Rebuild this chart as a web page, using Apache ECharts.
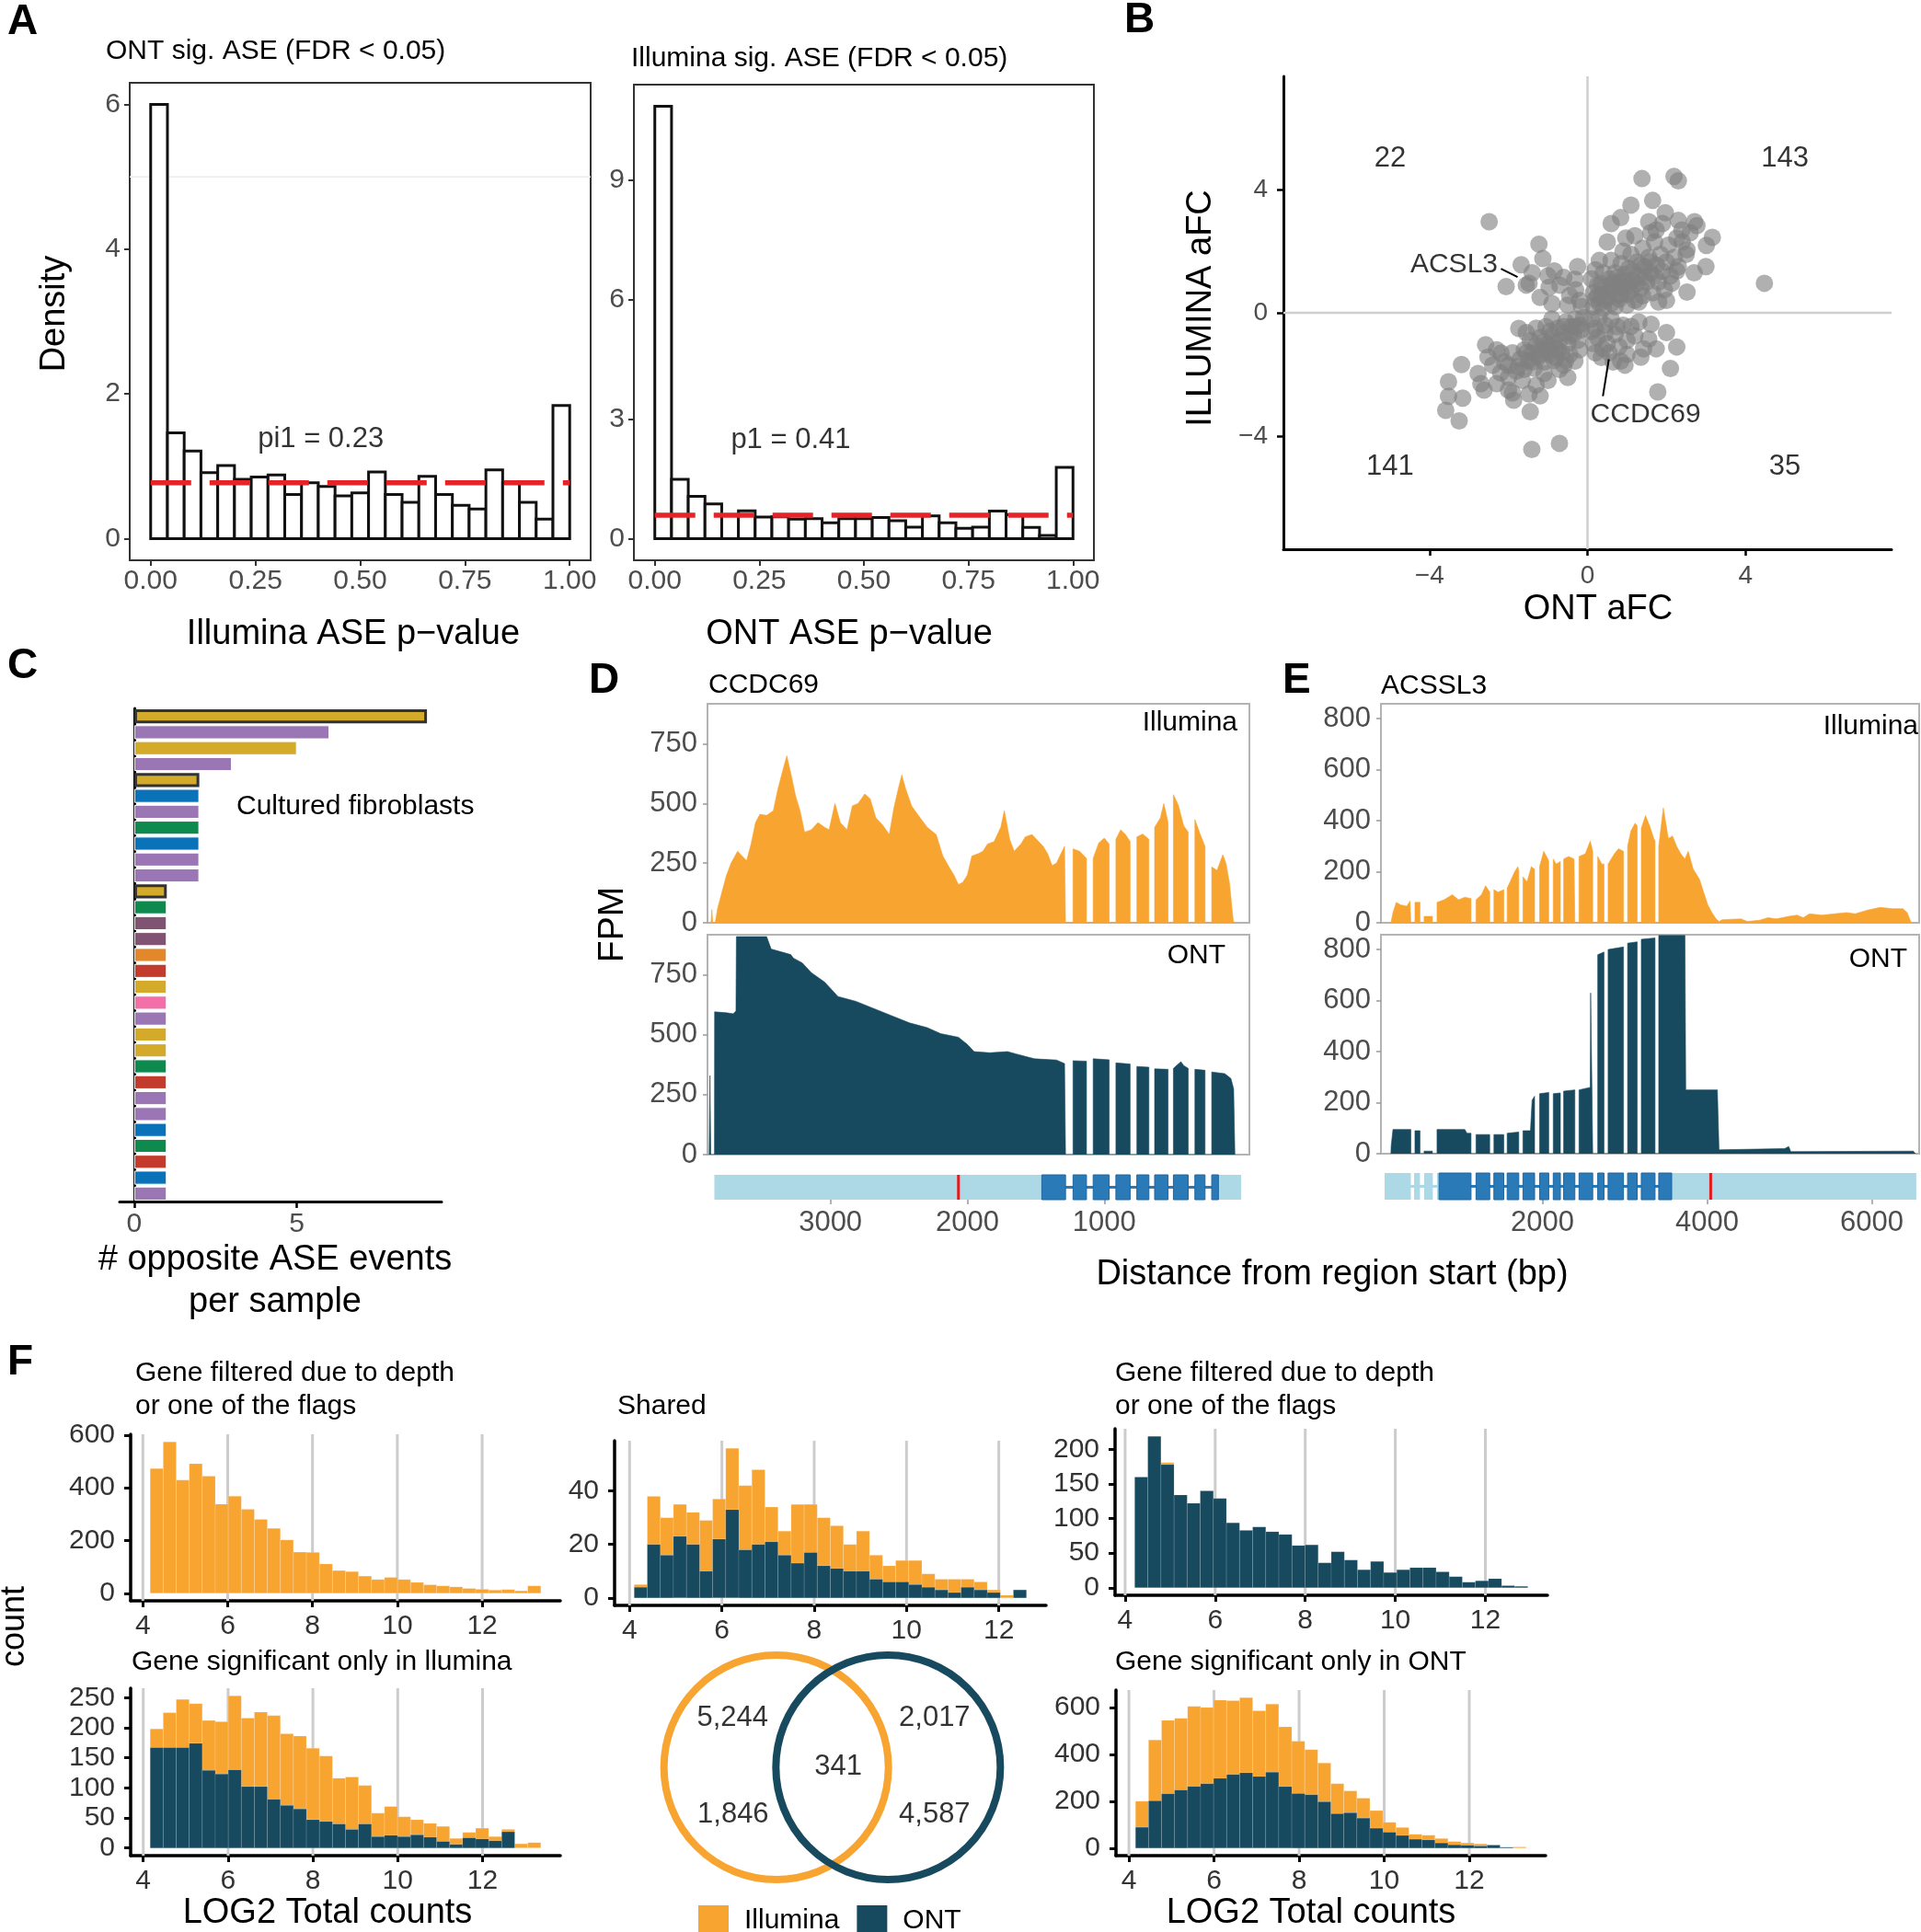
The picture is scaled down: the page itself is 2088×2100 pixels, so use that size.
<!DOCTYPE html>
<html>
<head>
<meta charset="utf-8">
<title>ONT vs Illumina ASE</title>
<script src="https://cdn.jsdelivr.net/npm/echarts@6/dist/echarts.min.js"></script>
<style>
  html, body { margin: 0; padding: 0; background: #fff; }
  #chart { width: 2088px; height: 2100px; }
</style>
</head>
<body>
<div id="chart"></div>
<script>
// ---------------- data ----------------
// A: p-value histograms (25 bins of 0.04)
const aBinWidth = 0.04;
const ontSigIlluminaP = [6.0, 1.46, 1.21, 0.91, 1.01, 0.82, 0.85, 0.88, 0.61, 0.77, 0.72, 0.59, 0.63, 0.92, 0.61, 0.50, 0.86, 0.61, 0.46, 0.41, 0.95, 0.77, 0.50, 0.27, 1.84];
const illSigOntP = [10.85, 1.49, 1.06, 0.87, 0.58, 0.70, 0.54, 0.55, 0.49, 0.50, 0.40, 0.50, 0.50, 0.53, 0.45, 0.29, 0.57, 0.40, 0.26, 0.29, 0.69, 0.60, 0.28, 0.08, 1.79];
const pi1 = 0.23;
const p1 = 0.41;

// B: aFC ONT vs Illumina
const afcPoints = [
  [2.19,4.43],[2.30,4.29],[1.38,4.36],[1.65,3.65],[1.97,3.25],[0.84,3.09],[2.71,2.96],[2.77,2.83],[3.16,2.45],[3.01,2.19],
  [2.52,2.05],[2.26,2.43],[2.39,2.69],[1.55,2.96],[1.74,2.69],[0.97,2.43],[4.48,0.96],[2.52,0.67],[2.26,1.36],[2.13,0.96],
  [0.15,0.2],[0.2,0.45],[0.3,0.3],[0.35,0.6],[0.4,0.15],[0.45,0.85],[0.5,0.5],[0.55,1.1],[0.6,0.3],[0.65,0.75],
  [0.7,1.3],[0.75,0.55],[0.8,1.0],[0.85,1.6],[0.9,0.8],[0.95,1.25],[1.0,0.6],[1.05,1.45],[1.1,1.9],[1.15,1.05],
  [1.2,0.4],[1.25,1.65],[1.3,1.2],[1.35,0.8],[1.4,2.1],[1.45,1.5],[1.5,1.0],[1.55,1.8],[1.6,1.3],[1.65,0.65],
  [1.7,2.3],[1.75,1.55],[1.8,1.0],[1.85,1.9],[1.9,1.35],[1.95,0.75],[2.0,1.65],[2.05,2.2],[2.1,1.2],[2.2,1.8],
  [2.3,1.5],[2.4,2.3],[2.5,1.9],[2.6,2.6],[0.25,0.9],[0.6,1.7],[0.9,2.0],[1.2,2.5],[0.4,1.3],[0.7,0.2],
  [1.0,0.25],[1.3,0.35],[0.3,1.7],[0.5,2.3],[0.15,0.65],[1.6,2.6],[1.9,2.9],[2.3,3.0],[1.1,3.5],[0.6,2.9],
  [0.1,1.1],[0.2,1.4],[2.7,1.3],[3.0,1.5],[1.8,0.35],[2.0,0.4],[0.8,0.45],[1.4,0.55],[0.55,0.7],[0.85,0.6],
  [1.05,0.9],[1.25,0.95],[0.95,1.05],[1.15,1.35],[1.45,1.15],[0.75,1.15],[0.45,0.4],[1.7,1.2],[1.35,1.55],[1.6,1.65],
  [0.65,0.95],[1.1,0.75],[0.35,0.95],[0.25,0.55],
  [-2.49,2.96],[-1.23,2.23],[-1.13,1.76],[-1.68,1.56],[-2.06,0.85],[-1.48,0.96],[-0.84,1.36],[-0.32,1.09],[-0.97,0.83],[-0.45,0.56],
  [-1.55,0.9],[-1.2,0.5],[-0.7,0.9],[-0.2,0.4],[-0.6,1.15],[-1.0,1.2],[-0.3,0.75],[-0.15,0.2],[-0.9,0.3],[-1.4,1.3],
  [-0.5,0.25],[-0.25,1.5],
  [-0.71,-4.24],[-1.41,-4.44],[-1.45,-3.21],[-3.25,-3.51],[-3.59,-3.17],[-3.52,-2.71],[-3.52,-2.24],[-3.16,-2.77],[-3.19,-1.68],[-2.77,-1.97],
  [-2.62,-2.51],[-2.58,-1.04],[-2.0,-2.51],[-1.87,-2.84],[-1.48,-2.64],[-2.52,-1.44],[-2.19,-1.31],[-2.0,-1.71],[-1.61,-1.84],[-1.10,-1.97],
  [-0.71,-1.84],[-0.32,-1.57],[-1.55,-0.64],[-1.74,-0.51],[-0.1,-0.15],[-0.2,-0.4],[-0.3,-0.2],[-0.35,-0.7],[-0.4,-0.45],[-0.5,-1.0],
  [-0.55,-0.3],[-0.6,-0.65],[-0.65,-1.3],[-0.7,-0.9],[-0.75,-0.5],[-0.8,-1.15],[-0.85,-1.55],[-0.9,-0.75],[-0.95,-1.35],[-1.0,-1.0],
  [-1.05,-0.45],[-1.1,-1.6],[-1.15,-1.2],[-1.2,-0.8],[-1.25,-1.45],[-1.3,-1.05],[-1.35,-1.8],[-1.4,-1.3],[-1.45,-0.9],[-1.5,-1.55],
  [-1.6,-1.2],[-1.7,-1.5],[-1.8,-1.9],[-1.9,-1.3],[-2.0,-2.1],[-2.1,-1.6],[-2.2,-1.95],[-2.3,-2.3],[-2.4,-1.7],[-1.65,-2.2],
  [-1.3,-2.35],[-0.45,-1.35],[-0.25,-0.9],[-0.15,-0.55],[-0.6,-1.7],[-1.0,-2.2],[-0.9,-0.2],[-1.3,-0.5],[-0.2,-1.2],[-2.7,-2.3],
  [-1.9,-2.6],[-1.2,-2.7],[-0.5,-2.1],[-2.3,-1.2],[-0.6,-0.45],[-0.85,-0.95],[-1.1,-0.95],[-0.75,-1.2],[-1.2,-1.35],[-0.45,-0.75],
  [-1.0,-1.25],[-1.4,-1.6],[-0.95,-0.6],[-0.3,-0.45],[-1.55,-1.3],[-1.75,-1.75],[-0.55,-1.55],[-0.8,-1.45],
  [1.61,-0.37],[2.0,-0.64],[2.26,-1.11],[1.42,-1.17],[1.74,-1.17],[1.35,-1.44],[0.84,-1.57],[0.39,-1.17],[1.10,-0.44],[2.10,-1.81],
  [1.78,-2.57],[0.1,-0.2],[0.2,-0.5],[0.3,-0.15],[0.25,-0.8],[0.45,-0.4],[0.5,-1.0],[0.6,-0.2],[0.7,-0.7],[0.55,-1.3],
  [0.8,-1.1],[0.9,-0.4],[1.0,-0.9],[0.35,-1.45],[0.15,-1.0],[1.2,-0.75],[1.0,-1.35],[0.65,-1.6],[0.45,-0.65],[1.3,-0.3],
  [0.1,-0.6],[0.75,-0.45],[0.2,-1.3],[1.55,-0.85],[0.95,-1.7]
];
const quadrantCounts = [22, 143, 141, 35]; // top-left, top-right, bottom-left, bottom-right
const acsl3Leader = [-2.19, 1.43, -1.77, 1.16];
const ccdc69Leader = [0.54, -1.51, 0.39, -2.71];

// C: opposite ASE events per sample
const oppositeEvents = [9, 6, 5, 3, 2, 2, 2, 2, 2, 2, 2, 1, 1, 1, 1, 1, 1, 1, 1, 1, 1, 1, 1, 1, 1, 1, 1, 1, 1, 1, 1];
const sampleGroup = ['gold', 'purple', 'gold', 'purple', 'gold', 'blue', 'purple', 'green', 'blue', 'purple', 'purple',
  'gold', 'green', 'plum', 'plum', 'orange', 'red', 'gold', 'pink', 'purple', 'gold', 'gold', 'green', 'red', 'purple',
  'purple', 'blue', 'green', 'red', 'blue', 'purple'];
const highlightedSamples = [0, 4, 11];

// D: CCDC69 coverage [distance bp, FPM]
const ccdc69Illumina = [
  [3872,0],[3866,55],[3860,0],
  [3842,0],[3824,60],[3792,130],[3759,200],[3726,250],[3678,300],[3645,280],[3612,260],[3580,330],[3547,420],[3515,455],
  [3466,450],[3417,470],[3384,560],[3352,630],[3319,700],[3287,620],[3254,530],[3222,470],[3189,380],[3140,390],[3091,420],
  [3042,400],[3010,390],[2967,500],[2928,420],[2879,390],[2840,490],[2798,500],[2749,540],[2710,520],[2668,440],[2619,410],
  [2570,370],[2537,480],[2505,560],[2479,620],[2450,560],[2407,490],[2358,450],[2293,400],[2228,370],[2179,280],[2130,230],
  [2098,200],[2065,160],[2033,170],[2000,200],[1967,280],[1919,290],[1886,300],[1853,330],[1805,340],[1756,400],[1730,470],
  [1691,350],[1658,300],[1609,330],[1577,360],[1528,370],[1495,350],[1446,320],[1414,290],[1381,240],[1349,250],[1316,290],
  [1290,320],[1283,320],[1283,0],
  [1228,0],[1228,310],[1180,300],[1130,270],[1130,0],
  [1081,0],[1081,270],[1040,335],[1000,355],[964,330],[964,0],
  [915,0],[915,350],[880,390],[845,370],[811,340],[811,0],
  [762,0],[762,360],[720,372],[674,350],[674,0],
  [632,0],[632,400],[590,440],[565,500],[534,420],[534,0],
  [495,0],[495,537],[460,495],[420,407],[387,380],[387,0],
  [338,0],[338,433],[300,372],[264,320],[264,0],
  [215,0],[215,234],[176,220],[134,285],[111,250],[85,165],[62,30],[55,0]
];
const ccdc69Ont = [
  [3886,0],[3880,330],[3874,0],
  [3847,0],[3846,596],[3760,592],[3710,588],[3690,600],[3687,910],[3466,910],[3433,858],[3350,845],[3290,835],[3270,820],
  [3205,800],[3140,760],[3042,720],[2977,680],[2945,660],[2880,650],[2814,640],[2750,625],[2684,610],[2554,580],[2423,550],
  [2293,530],[2195,505],[2065,490],[2000,460],[1951,430],[1837,425],[1707,430],[1642,420],[1511,400],[1349,395],[1290,380],
  [1283,380],[1283,0],
  [1228,0],[1228,392],[1130,390],[1130,0],
  [1081,0],[1081,400],[964,396],[964,0],
  [915,0],[915,383],[811,378],[811,0],
  [762,0],[762,368],[674,365],[674,0],
  [632,0],[632,358],[534,356],[534,0],
  [495,0],[495,360],[440,388],[420,372],[387,360],[387,0],
  [338,0],[338,356],[264,352],[264,0],
  [215,0],[215,345],[120,338],[75,318],[55,275],[46,0]
];
const ccdc69Utr = [[0, 166], [1456, 3848]];
const ccdc69Cds = [[166, 215], [264, 338], [387, 495], [534, 632], [674, 762], [811, 915], [964, 1081], [1130, 1228], [1283, 1456]];
const ccdc69Variant = 2065;

// E: ACSL3 coverage [distance bp, FPM]
const acsl3Illumina = [
  [159,0],[184,40],[224,80],[275,70],[351,65],[391,85],[401,85],[401,0],
  [451,0],[451,80],[512,80],[512,0],
  [562,0],[562,25],[663,25],[663,0],
  [719,0],[719,80],[805,90],[905,110],[981,90],[1057,100],[1132,95],[1132,0],
  [1193,0],[1193,90],[1259,110],[1309,145],[1359,120],[1359,0],
  [1410,0],[1410,130],[1460,120],[1530,130],[1530,0],
  [1571,0],[1571,135],[1662,200],[1702,220],[1712,200],[1712,0],
  [1763,0],[1763,180],[1813,160],[1864,220],[1904,210],[1904,0],
  [1965,0],[1965,220],[2015,280],[2066,250],[2076,240],[2076,0],
  [2131,0],[2131,250],[2166,230],[2217,240],[2217,0],
  [2257,0],[2257,250],[2318,260],[2383,250],[2393,245],[2393,0],
  [2444,0],[2444,260],[2520,270],[2580,320],[2610,280],[2610,0],
  [2671,0],[2671,260],[2721,230],[2747,230],[2747,0],
  [2797,0],[2797,230],[2873,270],[2923,290],[2984,280],[2984,0],
  [3034,0],[3034,300],[3074,360],[3125,390],[3150,380],[3150,0],
  [3200,0],[3200,370],[3251,420],[3301,380],[3352,330],[3367,320],[3367,0],
  [3412,0],[3412,300],[3468,450],[3528,330],[3579,340],[3629,300],[3680,270],[3730,250],[3770,280],[3831,210],[3907,170],
  [3957,120],[4008,70],[4058,40],[4108,15],[4144,5],[4184,12],[4411,15],[4487,5],[4638,10],[4739,20],[4840,15],[4991,25],
  [5092,30],[5168,20],[5243,35],[5395,30],[5546,35],[5697,40],[5798,35],[5950,50],[6101,60],[6252,55],[6378,55],[6429,40],[6479,0]
];
const acsl3Ont = [
  [159,0],[162,30],[184,95],[401,95],[401,0],
  [451,0],[451,90],[512,90],[512,0],
  [562,0],[562,10],[663,10],[663,0],
  [719,0],[719,95],[1057,95],[1082,80],[1132,80],[1132,0],
  [1193,0],[1193,75],[1359,75],[1359,0],
  [1410,0],[1410,75],[1530,75],[1530,0],
  [1571,0],[1571,80],[1712,85],[1712,0],
  [1763,0],[1763,90],[1854,90],[1874,210],[1904,225],[1904,0],
  [1965,0],[1965,235],[2076,240],[2076,0],
  [2131,0],[2131,235],[2217,238],[2217,0],
  [2257,0],[2257,245],[2393,250],[2393,0],
  [2444,0],[2444,250],[2580,260],[2585,630],[2595,630],[2600,270],[2610,270],[2610,0],
  [2671,0],[2671,780],[2747,790],[2747,0],
  [2797,0],[2797,800],[2984,810],[2984,0],
  [3034,0],[3034,825],[3150,830],[3150,0],
  [3200,0],[3200,840],[3367,845],[3367,0],
  [3412,0],[3412,855],[3730,855],[3740,250],[4124,250],[4144,15],[4941,20],[4991,28],[5016,8],[6504,10],[6530,0]
];
const acsl3Utr = [[83, 401], [441, 512], [562, 668], [719, 744], [3569, 6540]];
const acsl3Cds = [[744, 1132], [1193, 1359], [1410, 1530], [1571, 1712], [1763, 1904], [1965, 2076], [2131, 2217], [2257, 2393],
  [2444, 2610], [2671, 2747], [2797, 2984], [3034, 3150], [3200, 3367], [3412, 3569]];
const acsl3Variant = 4043;

// F: LOG2 total counts histograms (30 bins each)
const f1Start = 4.172, f1Width = 0.307;
const f1Illumina = [473, 574, 429, 491, 444, 338, 368, 318, 280, 246, 202, 156, 155, 111, 86, 82, 65, 52, 60, 52, 41, 32, 28, 24, 18, 15, 12, 14, 9, 28];
const f2Start = 4.10, f2Width = 0.2833;
const f2Ont = [4, 20, 16, 23, 20, 10, 22, 33, 18, 20, 21, 16, 13, 17, 12, 11, 10, 10, 7, 6, 6, 5, 4, 3, 2, 4, 3, 2, 0, 3];
const f2Illumina = [1, 18, 14, 12, 12, 19, 15, 23, 24, 28, 13, 9, 22, 18, 18, 16, 10, 15, 9, 6, 8, 9, 5, 4, 5, 3, 3, 1, 1, 0];
const f3Start = 4.213, f3Width = 0.291;
const f3Ont = [160, 219, 178, 134, 122, 140, 129, 94, 83, 88, 81, 77, 61, 62, 36, 52, 40, 26, 38, 22, 26, 29, 29, 23, 16, 8, 10, 13, 3, 2];
const f3Illumina = [0, 0, 3, 0, 0, 0, 0, 0, 0, 0, 0, 0, 0, 0, 0, 0, 0, 0, 0, 0, 0, 0, 0, 0, 0, 0, 0, 0, 0, 0];
const f4Start = 4.163, f4Width = 0.307;
const f4Ont = [167, 167, 167, 174, 129, 123, 130, 102, 102, 81, 71, 65, 47, 44, 40, 31, 40, 19, 21, 19, 22, 18, 11, 6, 17, 15, 12, 27, 0, 0];
const f4Illumina = [31, 58, 80, 66, 83, 87, 123, 114, 124, 139, 119, 121, 119, 109, 76, 87, 64, 39, 48, 33, 25, 23, 25, 10, 9, 18, 7, 4, 7, 9];
const f6Start = 4.155, f6Width = 0.306;
const f6Ont = [89, 202, 232, 248, 263, 275, 297, 314, 321, 305, 324, 262, 233, 228, 198, 147, 151, 128, 85, 68, 54, 38, 35, 22, 14, 12, 9, 13, 3, 0];
const f6Illumina = [111, 259, 313, 305, 341, 325, 334, 315, 321, 281, 290, 255, 223, 192, 165, 128, 93, 85, 75, 42, 34, 21, 20, 19, 14, 10, 9, 0, 2, 5];
const log2Ticks = [4, 6, 8, 10, 12];

// Venn counts: Illumina-only top, Illumina-only bottom, shared, ONT-only top, ONT-only bottom
const vennNumbers = [5244, 1846, 341, 2017, 4587];

// ---------------- styling ----------------
const FONT = '"Liberation Sans", Arial, Helvetica, sans-serif';
const ORANGE = '#f8a431';
const NAVY = '#17495f';
const LIGHT_BLUE = '#add8e6';
const EXON_BLUE = '#2a7ab8';
const groupColor = {
  gold: '#d4aa2a', purple: '#9a76b5', blue: '#0a72b8', green: '#0f8a4f',
  plum: '#805372', orange: '#e2882a', red: '#c23b2c', pink: '#f26fa8'
};

function merge(a, b) {
  const out = Object.assign({}, a);
  for (const k in b) {
    if (b[k] && typeof b[k] === 'object' && !Array.isArray(b[k]) && a[k] && typeof a[k] === 'object') out[k] = merge(a[k], b[k]);
    else out[k] = b[k];
  }
  return out;
}

function valueAxis(grid, min, max, ticks, extra) {
  const base = {
    type: 'value', gridIndex: grid, min: min, max: max,
    axisLine: { show: false, onZero: false },
    splitLine: { show: false },
    axisTick: { show: !!ticks, length: 6, lineStyle: { color: '#333', width: 2 } },
    axisLabel: { show: !!ticks, fontSize: 30, color: '#4d4d4d', fontFamily: FONT, margin: 10 }
  };
  if (ticks) {
    base.axisTick.customValues = ticks;
    base.axisLabel.customValues = ticks;
  }
  return merge(base, extra || {});
}

const minus = v => String(v).replace('-', '\u2212');
const plain = v => String(v);
const blackAxis = { axisLine: { show: true, onZero: false, lineStyle: { color: '#000', width: 3 } },
  axisTick: { length: 7, lineStyle: { color: '#000', width: 2.5 } } };

function rectSeries(name, grid, data, fill, stroke, lw, z) {
  return {
    type: 'custom', name: name, xAxisIndex: grid, yAxisIndex: grid, z: z || 3,
    itemStyle: { color: fill }, silent: true,
    encode: { x: [0, 1], y: [2, 3] },
    data: data,
    renderItem: function (params, api) {
      const a = api.coord([api.value(0), api.value(3)]);
      const b = api.coord([api.value(1), api.value(2)]);
      return {
        type: 'rect',
        shape: { x: Math.min(a[0], b[0]), y: a[1], width: Math.abs(b[0] - a[0]), height: b[1] - a[1] },
        style: { fill: fill, stroke: stroke, lineWidth: lw }
      };
    }
  };
}

function binsOf(start, width, lower, upper) {
  return upper.map((v, i) => {
    const lo = lower ? lower[i] : 0;
    return [start + i * width, start + (i + 1) * width, lo, lo + v];
  });
}

function segSeries(grid, segs, color, width, z, dash) {
  return {
    type: 'custom', xAxisIndex: grid, yAxisIndex: grid, z: z, silent: true,
    encode: { x: [0, 2], y: [1, 3] },
    data: segs,
    renderItem: function (params, api) {
      const a = api.coord([api.value(0), api.value(1)]);
      const b = api.coord([api.value(2), api.value(3)]);
      return { type: 'line', shape: { x1: a[0], y1: a[1], x2: b[0], y2: b[1] },
        style: { stroke: color, lineWidth: width, lineDash: dash || null } };
    }
  };
}

function textSeries(grid, items, size, position) {
  return {
    type: 'scatter', xAxisIndex: grid, yAxisIndex: grid, z: 6, silent: true,
    symbolSize: 1, itemStyle: { color: 'rgba(0,0,0,0)' }, clip: false,
    label: { show: true, formatter: '{b}', position: position || 'inside', distance: 0,
      fontSize: size, color: '#000', fontFamily: FONT },
    data: items
  };
}

function areaSeries(name, grid, data, color) {
  return {
    type: 'line', name: name, xAxisIndex: grid, yAxisIndex: grid, data: data,
    symbol: 'none', showSymbol: false, smooth: false, z: 2, silent: true,
    lineStyle: { width: 0.6, color: color }, itemStyle: { color: color },
    areaStyle: { color: color, opacity: 1 }
  };
}

function trackSeries(grid, utr, cds, lightIntron, darkIntron, variant) {
  const data = [];
  if (lightIntron) data.push([lightIntron[0], lightIntron[1], 2]);
  data.push([darkIntron[0], darkIntron[1], 3]);
  utr.forEach(r => data.push([r[0], r[1], 0]));
  cds.forEach(r => data.push([r[0], r[1], 1]));
  data.push([variant, variant, 4]);
  return {
    type: 'custom', xAxisIndex: grid, yAxisIndex: grid, z: 3, silent: true,
    encode: { x: [0, 1], y: 2 },
    data: data,
    renderItem: function (params, api) {
      const k = api.value(2);
      const a = api.coord([api.value(0), 1]);
      const b = api.coord([api.value(1), 0]);
      const x = Math.min(a[0], b[0]);
      const w = Math.abs(b[0] - a[0]);
      if (k === 2 || k === 3) {
        const m = (a[1] + b[1]) / 2;
        return { type: 'rect', shape: { x: x, y: m - 1.5, width: w, height: 3 }, style: { fill: k === 2 ? LIGHT_BLUE : EXON_BLUE } };
      }
      if (k === 4) {
        return { type: 'line', shape: { x1: a[0], y1: a[1], x2: a[0], y2: b[1] }, style: { stroke: '#e41a1c', lineWidth: 3 } };
      }
      return { type: 'rect', shape: { x: x, y: a[1], width: w, height: b[1] - a[1] },
        style: { fill: k === 1 ? EXON_BLUE : LIGHT_BLUE, stroke: k === 1 ? '#1f66a3' : null, lineWidth: 1 } };
    }
  };
}

function binRange(start, width, n) {
  const lo = start, hi = start + width * n, pad = (hi - lo) * 0.05;
  return [lo - pad, hi + pad];
}
function countRange(lower, upper) {
  const m = Math.max.apply(null, upper.map((v, i) => v + (lower ? lower[i] : 0)));
  return [-0.05 * m, 1.05 * m];
}

function txt(s, x, y, size, o) {
  o = o || {};
  const align = o.align || 'left';
  return {
    type: 'text', x: x, y: y, rotation: o.rotate ? Math.PI / 2 : 0, silent: true, z: 10,
    style: { text: s, fill: '#000', font: (o.bold ? 'bold ' : '') + size + 'px ' + FONT,
      textAlign: align, align: align, textVerticalAlign: 'middle', verticalAlign: 'middle' }
  };
}

// ---------------- layout ----------------
const grids = [
  { left: 141, top: 90, width: 501, height: 519, show: true, borderColor: '#333', borderWidth: 2, backgroundColor: '#fff' }, // 0 A1
  { left: 689, top: 92, width: 500, height: 517, show: true, borderColor: '#333', borderWidth: 2, backgroundColor: '#fff' }, // 1 A2
  { left: 1395, top: 83, width: 661, height: 514 },  // 2 B
  { left: 130, top: 770, width: 350, height: 536 },  // 3 C
  { left: 769, top: 765, width: 589, height: 238, show: true, borderColor: '#b3b3b3', borderWidth: 2 }, // 4 D Illumina
  { left: 769, top: 1016, width: 589, height: 239, show: true, borderColor: '#b3b3b3', borderWidth: 2 }, // 5 D ONT
  { left: 769, top: 1277, width: 589, height: 27 },  // 6 D track
  { left: 1501, top: 765, width: 585, height: 238, show: true, borderColor: '#b3b3b3', borderWidth: 2 }, // 7 E Illumina
  { left: 1501, top: 1016, width: 585, height: 238, show: true, borderColor: '#b3b3b3', borderWidth: 2 }, // 8 E ONT
  { left: 1501, top: 1275, width: 585, height: 29 }, // 9 E track
  { left: 142, top: 1559, width: 467, height: 181 }, // 10 F1
  { left: 668, top: 1566, width: 469, height: 179 }, // 11 F2
  { left: 1212, top: 1553, width: 470, height: 181 }, // 12 F3
  { left: 142, top: 1835, width: 467, height: 182 }, // 13 F4
  { left: 722, top: 1821, width: 365, height: 200 }, // 14 Venn
  { left: 1213, top: 1837, width: 467, height: 180 }  // 15 F6
];

const f1x = binRange(f1Start, f1Width, 30), f1y = countRange(null, f1Illumina);
const f2x = binRange(f2Start, f2Width, 30), f2y = countRange(f2Ont, f2Illumina);
const f3x = binRange(f3Start, f3Width, 30), f3y = countRange(f3Ont, f3Illumina);
const f4x = binRange(f4Start, f4Width, 30), f4y = countRange(f4Ont, f4Illumina);
const f6x = binRange(f6Start, f6Width, 30), f6y = countRange(f6Ont, f6Illumina);

const pTicks = [0, 0.25, 0.5, 0.75, 1];
const fX = { axisLine: { show: true, onZero: false, lineStyle: { color: '#000', width: 3.5 } },
  axisTick: { length: 7, lineStyle: { color: '#000', width: 3 } },
  axisLabel: { margin: 13, fontSize: 30, color: '#333' } };
const fY = { axisLine: { show: true, onZero: false, lineStyle: { color: '#000', width: 3.5 } },
  axisTick: { length: 7, lineStyle: { color: '#000', width: 3 } },
  axisLabel: { margin: 17, fontSize: 30, color: '#333' } };
const covY = { axisTick: { length: 5, lineStyle: { color: '#999', width: 1.5 } }, axisLabel: { fontSize: 31, margin: 11, formatter: plain } };
const trackX = { axisTick: { length: 5, lineStyle: { color: '#999', width: 1.5 } }, axisLabel: { fontSize: 31, margin: 10, formatter: plain } };

const xAxes = [
  valueAxis(0, -0.05, 1.05, pTicks, { axisLabel: { formatter: v => v.toFixed(2), margin: 8 } }),
  valueAxis(1, -0.05, 1.05, pTicks, { axisLabel: { formatter: v => v.toFixed(2), margin: 8 } }),
  valueAxis(2, -7.7, 7.7, [-4, 0, 4], merge(blackAxis, { axisLabel: { formatter: minus, margin: 15, fontSize: 28 } })),
  valueAxis(3, -0.45, 9.45, [0, 5], merge(blackAxis, { axisLabel: { margin: 10 } })),
  valueAxis(4, -60, 3898, null, { inverse: true }),
  valueAxis(5, -60, 3898, null, { inverse: true }),
  valueAxis(6, -60, 3898, [1000, 2000, 3000], merge(trackX, { inverse: true })),
  valueAxis(7, 38, 6575, null),
  valueAxis(8, 38, 6575, null),
  valueAxis(9, 38, 6575, [2000, 4000, 6000], trackX),
  valueAxis(10, f1x[0], f1x[1], log2Ticks, fX),
  valueAxis(11, f2x[0], f2x[1], log2Ticks, fX),
  valueAxis(12, f3x[0], f3x[1], log2Ticks, fX),
  valueAxis(13, f4x[0], f4x[1], log2Ticks, fX),
  valueAxis(14, -3, 3, null, { show: false }),
  valueAxis(15, f6x[0], f6x[1], log2Ticks, fX)
];

const yAxes = [
  valueAxis(0, -0.3, 6.3, [0, 2, 4, 6]),
  valueAxis(1, -0.5425, 11.3925, [0, 3, 6, 9]),
  valueAxis(2, -7.68, 7.68, [-4, 0, 4], merge(blackAxis, { axisLabel: { formatter: minus, margin: 17, fontSize: 28 } })),
  { type: 'category', gridIndex: 3, inverse: true, data: oppositeEvents.map((v, i) => 'sample' + (i + 1)),
    axisLine: { show: true, lineStyle: { color: '#000', width: 3 } }, axisTick: { show: false }, axisLabel: { show: false } },
  valueAxis(4, 0, 918, [0, 250, 500, 750], covY),
  valueAxis(5, 0, 918, [0, 250, 500, 750], covY),
  valueAxis(6, 0, 1, null),
  valueAxis(7, 0, 858, [0, 200, 400, 600, 800], covY),
  valueAxis(8, 0, 858, [0, 200, 400, 600, 800], covY),
  valueAxis(9, 0, 1, null),
  valueAxis(10, f1y[0], f1y[1], [0, 200, 400, 600], fY),
  valueAxis(11, f2y[0], f2y[1], [0, 20, 40], fY),
  valueAxis(12, f3y[0], f3y[1], [0, 50, 100, 150, 200], fY),
  valueAxis(13, f4y[0], f4y[1], [0, 50, 100, 150, 200, 250], fY),
  valueAxis(14, -1, 1, null, { show: false }),
  valueAxis(15, f6y[0], f6y[1], [0, 200, 400, 600], fY)
];

// ---------------- series ----------------
const series = [];

// F histograms first so the legend picks up their colours
function fPanel(grid, start, width, ont, ill, xr, yr) {
  series.push(segSeries(grid, log2Ticks.map(t => [t, yr[0], t, yr[1]]), '#cccccc', 3, 1));
  if (ill) series.push(rectSeries('Illumina', grid, binsOf(start, width, ont, ill), ORANGE, 'rgba(255,255,255,0.18)', 1));
  if (ont) series.push(rectSeries('ONT', grid, binsOf(start, width, null, ont), NAVY, 'rgba(255,255,255,0.12)', 1));
}
fPanel(10, f1Start, f1Width, null, f1Illumina, f1x, f1y);
fPanel(11, f2Start, f2Width, f2Ont, f2Illumina, f2x, f2y);
fPanel(12, f3Start, f3Width, f3Ont, f3Illumina, f3x, f3y);
fPanel(13, f4Start, f4Width, f4Ont, f4Illumina, f4x, f4y);
fPanel(15, f6Start, f6Width, f6Ont, f6Illumina, f6x, f6y);

// A panels
series.push(segSeries(0, [[-0.05, 5, 1.05, 5]], '#ebebeb', 1.5, 1));
series.push(rectSeries('ONT sig', 0, binsOf(0, aBinWidth, null, ontSigIlluminaP), '#fff', '#111', 3));
series.push(segSeries(0, [[0, 1 - pi1, 1, 1 - pi1]], '#e5242a', 5.5, 4, [44, 20]));
series.push(textSeries(0, [{ name: 'pi1 = ' + pi1.toFixed(2), value: [0.406, 1.37] }], 31));
series.push(rectSeries('Illumina sig', 1, binsOf(0, aBinWidth, null, illSigOntP), '#fff', '#111', 3));
series.push(segSeries(1, [[0, 1 - p1, 1, 1 - p1]], '#e5242a', 5.5, 4, [44, 20]));
series.push(textSeries(1, [{ name: 'p1 = ' + p1.toFixed(2), value: [0.325, 2.48] }], 31));

// B scatter
series.push(segSeries(2, [[-7.7, 0, 7.7, 0], [0, -7.68, 0, 7.68]], '#cfcfcf', 2.5, 1));
series.push({
  type: 'scatter', xAxisIndex: 2, yAxisIndex: 2, z: 3, silent: true,
  symbolSize: 19, itemStyle: { color: '#7f7f7f', opacity: 0.62 },
  data: afcPoints
});
series.push(segSeries(2, [acsl3Leader, ccdc69Leader], '#000', 2, 5));
series.push(textSeries(2, [
  { name: String(quadrantCounts[0]), value: [-5, 5] },
  { name: String(quadrantCounts[1]), value: [5, 5] },
  { name: String(quadrantCounts[2]), value: [-5, -5] },
  { name: String(quadrantCounts[3]), value: [5, -5] }
], 31));
series.push(textSeries(2, [{ name: 'ACSL3', value: [-2.26, 1.56] }], 30, 'left'));
series.push(textSeries(2, [{ name: 'CCDC69', value: [0.06, -3.31] }], 30, 'right'));

// C bars
series.push({
  type: 'bar', xAxisIndex: 3, yAxisIndex: 3, barCategoryGap: '12%', silent: true, z: 3,
  data: oppositeEvents.map((v, i) => {
    const hl = highlightedSamples.indexOf(i) >= 0;
    return { value: v, itemStyle: { color: groupColor[sampleGroup[i]], borderColor: hl ? '#333' : '#fff', borderWidth: hl ? 3 : 1 } };
  })
});

// D / E coverage and gene models
series.push(areaSeries('CCDC69 Illumina', 4, ccdc69Illumina, ORANGE));
series.push(areaSeries('CCDC69 ONT', 5, ccdc69Ont, NAVY));
series.push(trackSeries(6, ccdc69Utr, ccdc69Cds, null, [166, 1456], ccdc69Variant));
series.push(areaSeries('ACSL3 Illumina', 7, acsl3Illumina, ORANGE));
series.push(areaSeries('ACSL3 ONT', 8, acsl3Ont, NAVY));
series.push(trackSeries(9, acsl3Utr, acsl3Cds, [83, 744], [744, 3569], acsl3Variant));

// Venn
series.push({
  type: 'scatter', xAxisIndex: 14, yAxisIndex: 14, z: 3, silent: true, clip: false, symbolSize: 244,
  data: [
    { value: [-1, 0], itemStyle: { color: 'rgba(0,0,0,0)', borderColor: ORANGE, borderWidth: 8, opacity: 1 } },
    { value: [1, 0], itemStyle: { color: 'rgba(0,0,0,0)', borderColor: NAVY, borderWidth: 8, opacity: 1 } }
  ]
});
const vennSpots = [[-1.78, 0.54], [-1.77, -0.51], [0.11, 0.01], [1.83, 0.54], [1.83, -0.51]];
series.push(textSeries(14, vennNumbers.map((n, i) => ({ name: n.toLocaleString('en-US'), value: vennSpots[i] })), 31));

// ---------------- text ----------------
const texts = [
  txt('A', 8, 24, 46, { bold: true }),
  txt('B', 1222, 22, 46, { bold: true }),
  txt('C', 8, 724, 46, { bold: true }),
  txt('D', 640, 740, 46, { bold: true }),
  txt('E', 1394, 740, 46, { bold: true }),
  txt('F', 8, 1481, 46, { bold: true }),
  txt('ONT sig. ASE (FDR < 0.05)', 115, 56, 30),
  txt('Illumina sig. ASE (FDR < 0.05)', 686, 64, 30),
  txt('Density', 60, 341, 38, { rotate: true, align: 'center' }),
  txt('Illumina ASE p\u2212value', 384, 690, 38, { align: 'center' }),
  txt('ONT ASE p\u2212value', 923, 690, 38, { align: 'center' }),
  txt('ONT aFC', 1737, 663, 38, { align: 'center' }),
  txt('ILLUMINA aFC', 1306, 335, 38, { rotate: true, align: 'center' }),
  txt('Cultured fibroblasts', 257, 877, 30),
  txt('# opposite ASE events', 299, 1370, 38, { align: 'center' }),
  txt('per sample', 299, 1416, 38, { align: 'center' }),
  txt('CCDC69', 770, 745, 30),
  txt('ACSSL3', 1501, 746, 30),
  txt('Illumina', 1345, 786, 30, { align: 'right' }),
  txt('ONT', 1332, 1039, 30, { align: 'right' }),
  txt('Illumina', 2085, 790, 30, { align: 'right' }),
  txt('ONT', 2073, 1043, 30, { align: 'right' }),
  txt('FPM', 666, 1005, 39, { rotate: true, align: 'center' }),
  txt('Distance from region start (bp)', 1448, 1386, 38, { align: 'center' }),
  txt('Gene filtered due to depth', 147, 1493, 30),
  txt('or one of the flags', 147, 1529, 30),
  txt('Shared', 671, 1529, 30),
  txt('Gene filtered due to depth', 1212, 1493, 30),
  txt('or one of the flags', 1212, 1529, 30),
  txt('Gene significant only in llumina', 143, 1807, 30),
  txt('Gene significant only in ONT', 1212, 1807, 30),
  txt('count', 16, 1768, 36, { rotate: true, align: 'center' }),
  txt('LOG2 Total counts', 356, 2080, 38, { align: 'center' }),
  txt('LOG2 Total counts', 1425, 2080, 38, { align: 'center' })
];

const chart = echarts.init(document.getElementById('chart'));
chart.setOption({
  animation: false,
  backgroundColor: '#fff',
  textStyle: { fontFamily: FONT },
  grid: grids,
  xAxis: xAxes,
  yAxis: yAxes,
  legend: {
    data: ['Illumina', 'ONT'], left: 754, top: 2066, icon: 'rect', itemWidth: 33, itemHeight: 33, itemGap: 19,
    selectedMode: false, textStyle: { fontSize: 30, fontFamily: FONT, color: '#000', padding: [0, 0, 0, 12] }
  },
  graphic: { elements: texts },
  series: series
});
</script>
</body>
</html>
